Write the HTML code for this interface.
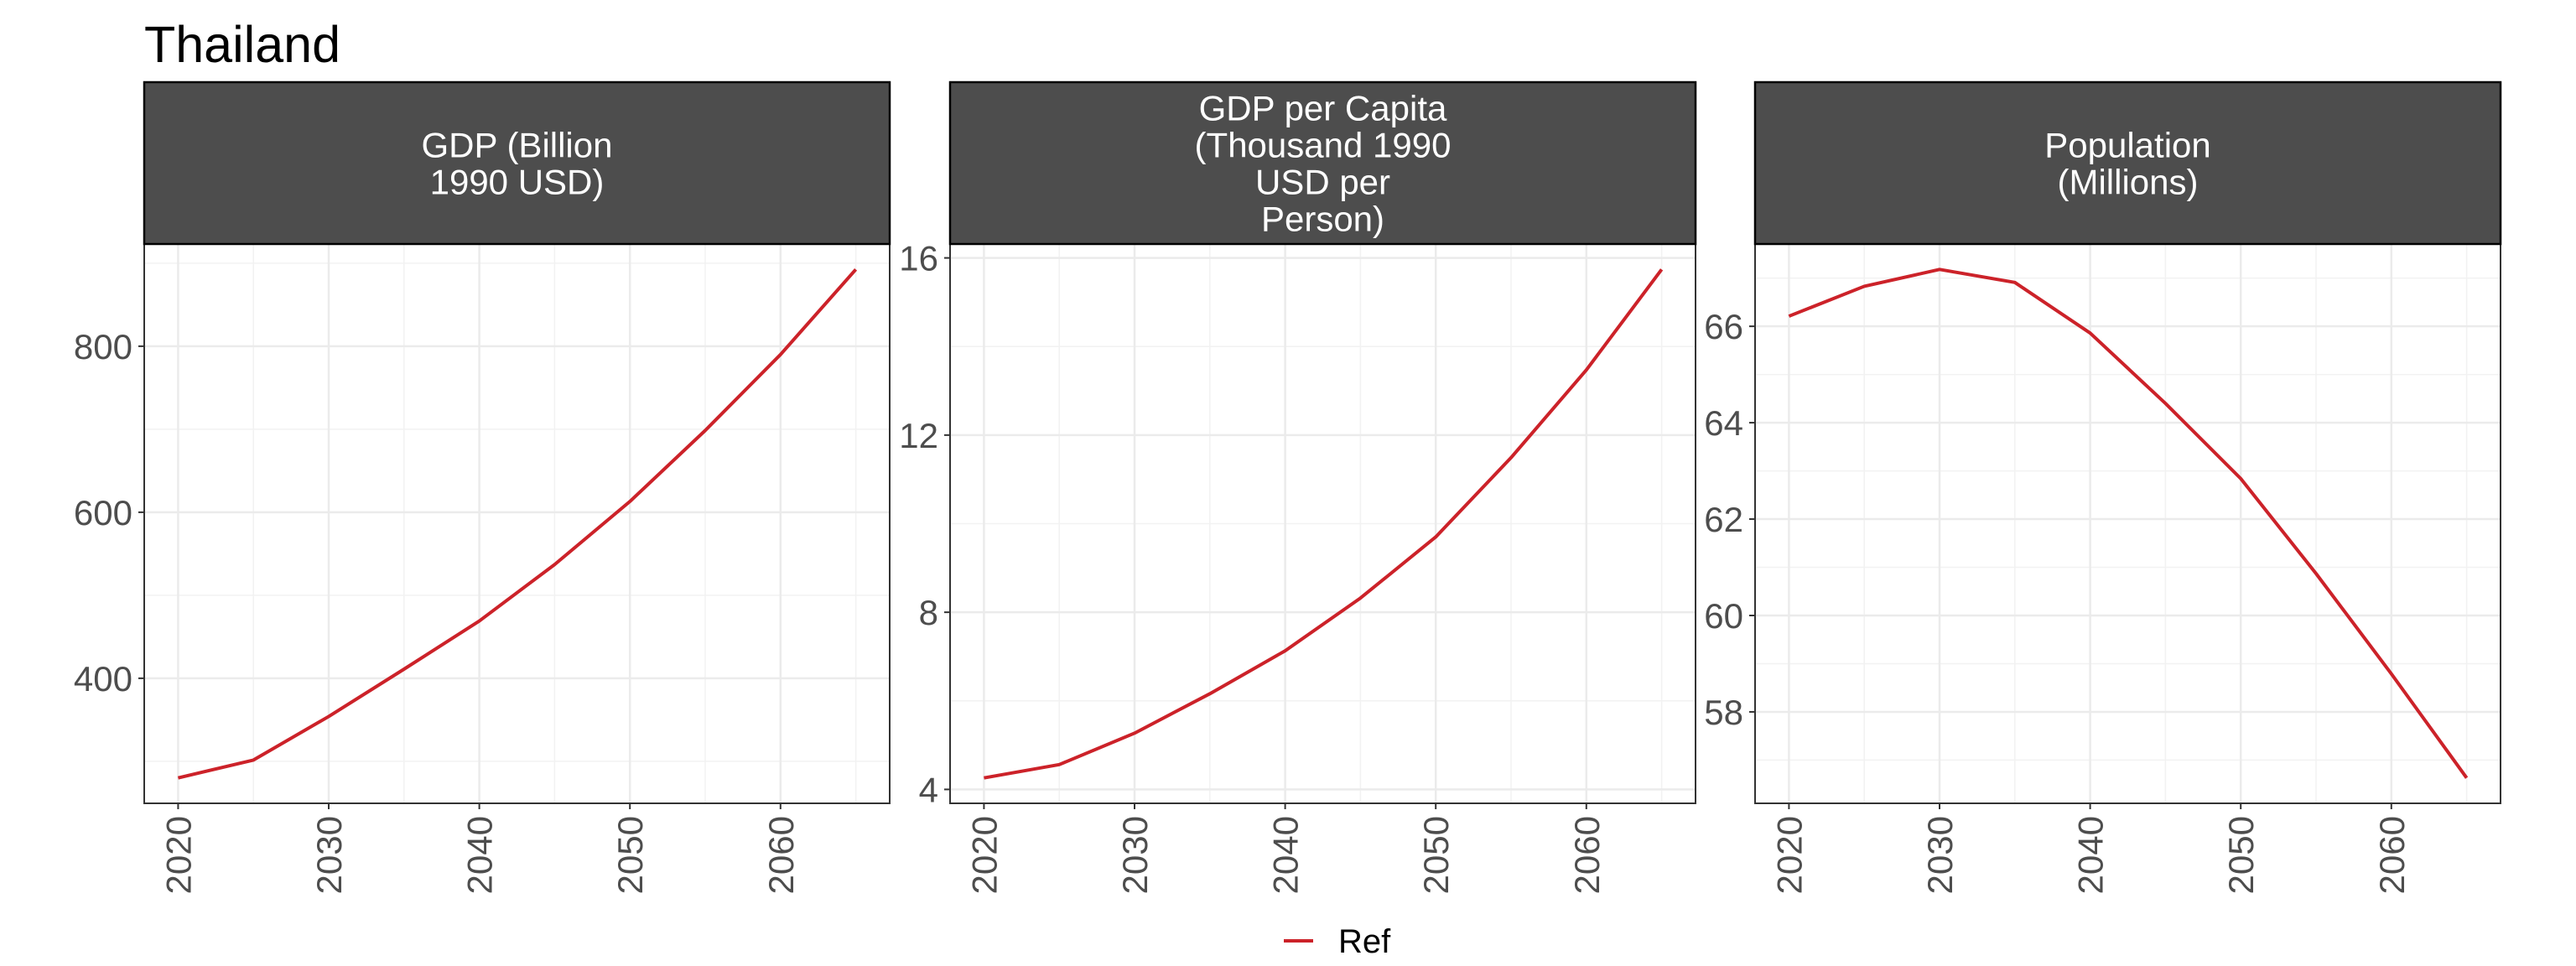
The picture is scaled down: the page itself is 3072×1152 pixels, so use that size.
<!DOCTYPE html>
<html><head><meta charset="utf-8"><style>
html,body{margin:0;padding:0;background:#fff;}
svg{display:block;font-family:"Liberation Sans",Arial,sans-serif;}
</style></head><body>
<svg id="chart" width="3072" height="1152" viewBox="0 0 3072 1152" xmlns="http://www.w3.org/2000/svg">
<text x="172" y="74" font-size="61" fill="#000">Thailand</text>
<g id="panels"></g>
<line x1="1531" y1="1122" x2="1566" y2="1122" stroke="#cc2229" stroke-width="4"/>
<text x="1596" y="1136" font-size="40" fill="#000">Ref</text>
</svg>
<script>
const years = [2020,2025,2030,2035,2040,2045,2050,2055,2060,2065];
const gdpValues = [280,301.5,354,411,469,537,613,698.5,790,892.5];
const gdpPcValues = [4.26,4.56,5.27,6.16,7.13,8.32,9.70,11.49,13.47,15.74];
const popValues = [66.21,66.83,67.18,66.91,65.86,64.40,62.84,60.87,58.79,56.63];
const xTicks = [2020,2030,2040,2050,2060];
const gdpTicks = [400,600,800];
const gdpPcTicks = [4,8,12,16];
const popTicks = [58,60,62,64,66];
const gdpTitle = ["GDP (Billion","1990 USD)"];
const gdpPcTitle = ["GDP per Capita","(Thousand 1990","USD per","Person)"];
const popTitle = ["Population","(Millions)"];

const NS="http://www.w3.org/2000/svg";
const root=document.getElementById('panels');
function mk(tag,attrs,parent){const e=document.createElementNS(NS,tag);for(const k in attrs)e.setAttribute(k,attrs[k]);(parent||root).appendChild(e);return e;}

const panels=[
 {left:172,vals:gdpValues,ticks:gdpTicks,title:gdpTitle,name:'gdp'},
 {left:1133,vals:gdpPcValues,ticks:gdpPcTicks,title:gdpPcTitle,name:'gdp-per-capita'},
 {left:2093,vals:popValues,ticks:popTicks,title:popTitle,name:'population'}
];
const W=889, stripTop=98, plotTop=291, plotBottom=958;
panels.forEach(p=>{
  const g=mk('g',{});
  
  
  const mn=Math.min(...p.vals), mx=Math.max(...p.vals), pad=(mx-mn)*0.05;
  const lo=mn-pad, hi=mx+pad;
  const y=v=>plotBottom-(v-lo)/(hi-lo)*(plotBottom-plotTop);
  const x0=years[0], x1=years[years.length-1], xp=(x1-x0)*0.05;
  const x=v=>p.left+(v-(x0-xp))/((x1+xp)-(x0-xp))*W;
  const step=p.ticks[1]-p.ticks[0];
  for(let v=p.ticks[0]-step*2+step/2; v<=hi; v+=step){ if(v<lo) continue;
    const l=mk('line',{x1:p.left,x2:p.left+W,y1:y(v),y2:y(v),stroke:'#f2f2f2','stroke-width':1.5},g);
    
    
  }
  for(let v=2025; v<=2065; v+=10){
    const l=mk('line',{x1:x(v),x2:x(v),y1:plotTop,y2:plotBottom,stroke:'#f2f2f2','stroke-width':1.5},g);
    
    
  }
  p.ticks.forEach(t=>{
    const l=mk('line',{x1:p.left,x2:p.left+W,y1:y(t),y2:y(t),stroke:'#ebebeb','stroke-width':2.5},g);
    
    
    const tk=mk('line',{x1:p.left-7,x2:p.left,y1:y(t),y2:y(t),stroke:'#333','stroke-width':2},g);
    
    
    const tx=mk('text',{x:p.left-14,y:y(t)+15,'text-anchor':'end','font-size':42,fill:'#4d4d4d'},g);
    tx.textContent=t;
    
    
  });
  xTicks.forEach(t=>{
    const l=mk('line',{x1:x(t),x2:x(t),y1:plotTop,y2:plotBottom,stroke:'#ebebeb','stroke-width':2.5},g);
    
    
    const tk=mk('line',{x1:x(t),x2:x(t),y1:plotBottom,y2:plotBottom+7,stroke:'#333','stroke-width':2},g);
    
    
    const tx=mk('text',{x:0,y:0,'text-anchor':'end','font-size':42,fill:'#4d4d4d',transform:`translate(${x(t)+15},${plotBottom+15}) rotate(-90)`},g);
    tx.textContent=t;
    
    
  });
  const pts=years.map((yr,i)=>x(yr)+','+y(p.vals[i])).join(' ');
  const pl=mk('polyline',{points:pts,fill:'none',stroke:'#cc2229','stroke-width':4,'stroke-linejoin':'round'},g);
  
  
  const border=mk('rect',{x:p.left,y:plotTop,width:W,height:plotBottom-plotTop,fill:'none',stroke:'#333','stroke-width':2},g);
  
  
  const strip=mk('rect',{x:p.left,y:stripTop,width:W,height:plotTop-stripTop,fill:'#4d4d4d',stroke:'#000','stroke-width':2.5},g);
  
  
  const n=p.title.length, lh=44, cy=(stripTop+plotTop)/2;
  p.title.forEach((s,i)=>{
    const tx=mk('text',{x:p.left+W/2,y:cy+(i-(n-1)/2)*lh+15,'text-anchor':'middle','font-size':42,fill:'#fff'},g);
    tx.textContent=s;
    
    
  });
});
</script>
</body></html>
